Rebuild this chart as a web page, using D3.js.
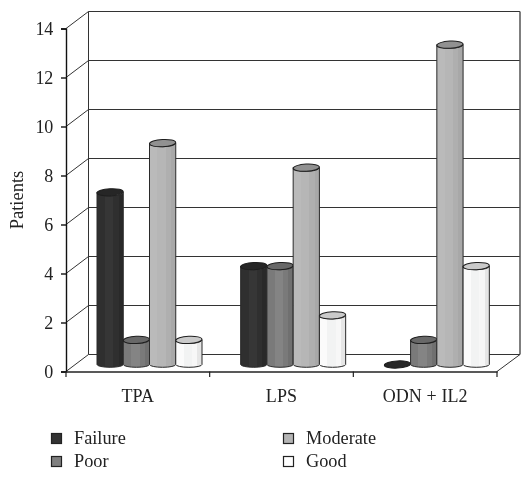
<!DOCTYPE html>
<html><head><meta charset="utf-8">
<script src="https://cdn.jsdelivr.net/npm/d3@7"></script>
<style>html,body{margin:0;padding:0;background:#fff}svg{display:block;filter:blur(0.35px)}
text{font-family:"Liberation Serif",serif;fill:#222}</style></head>
<body><div id="chart"></div>
<script>
const categories = ["TPA", "LPS", "ODN + IL2"];
const seriesNames = ["Failure", "Poor", "Moderate", "Good"];
const failure = [7, 4, 0];
const poor = [1, 4, 1];
const moderate = [9, 8, 13];
const good = [1, 2, 4];
const seriesValues = [failure, poor, moderate, good];
const yTicks = [0, 2, 4, 6, 8, 10, 12, 14];

const W = 532, H = 479;
const depthX = 22.5, depthY = 17;
const svg = d3.select("#chart").append("svg").attr("width", W).attr("height", H);
const defs = svg.append("defs");

const y = d3.scaleLinear().domain([0, 14]).range([371.5, 28.5]);
const x0 = d3.scaleBand().domain(categories).range([66, 497]);
const x1 = d3.scaleBand().domain(seriesNames).range([31, 136]);
const yBar = d3.scaleLinear().domain([0, 14]).range([364.5, 20.1]);

// Colours per series: [left, mid, light, right, cap, legend]
const shades = {
  Failure: ["#2f2f2f", "#363636", "#2f2f2f", "#292929", "#262626", "#333333"],
  Poor: ["#7a7a7a", "#848484", "#7a7a7a", "#707070", "#686868", "#7f7f7f"],
  Moderate: ["#bababa", "#b6b6b6", "#afafaf", "#a8a8a8", "#919191", "#b4b4b4"],
  Good: ["#fbfbfb", "#f2f3f3", "#f7f7f7", "#e6e6e6", "#cacaca", "#ffffff"]
};
seriesNames.forEach(s => {
  const g = defs.append("linearGradient").attr("id", "g" + s);
  const c = shades[s];
  [[0, c[0]], [.3, c[0]], [.3, c[1]], [.62, c[1]], [.62, c[2]], [.82, c[2]], [.82, c[3]], [1, c[3]]]
    .forEach(([o, col]) => g.append("stop").attr("offset", o).attr("stop-color", col));
});

// Chart box
const box = svg.append("g").attr("fill", "none").attr("stroke", "#333").attr("stroke-width", 1);
const line = (x1_, y1_, x2_, y2_, col, w) => box.append("line")
  .attr("x1", x1_).attr("y1", y1_).attr("x2", x2_).attr("y2", y2_)
  .attr("stroke", col || "#333").attr("stroke-width", w || 1);

yTicks.forEach(t => {
  line(66, y(t), 66 + depthX, y(t) - depthY);
  line(66 + depthX, y(t) - depthY, 520, y(t) - depthY);
});
line(88.5, y(14) - depthY, 88.5, y(0) - depthY);
line(520, y(14) - depthY, 520, y(0) - depthY, "#555", 1.5);
line(497, y(0), 520, y(0) - depthY);

// Axes
const axL = svg.append("g").attr("transform", "translate(66,0)")
  .call(d3.axisLeft(y).tickValues(yTicks).tickSize(5).tickPadding(8).tickFormat(d3.format("d")));
const axB = svg.append("g").attr("transform", "translate(0," + y(0) + ")")
  .call(d3.axisBottom(x0).tickSize(0).tickPadding(17.5));
axL.selectAll("path,line").attr("stroke", "#111").attr("stroke-width", 1.4);
axB.select("path").attr("stroke", "#222").attr("stroke-width", 1.4);
axL.selectAll("text").attr("font-size", 18).attr("font-family", "Liberation Serif").attr("fill", "#222").attr("letter-spacing", -.3);
axB.selectAll("text").attr("font-size", 18).attr("font-family", "Liberation Serif").attr("fill", "#222").attr("letter-spacing", .1);
const bTicks = [0, 1, 2, 3].map(i => 66 + i * x0.bandwidth());
axB.selectAll(".cat-sep").data(bTicks).enter().append("line").attr("class", "cat-sep")
  .attr("x1", d => d).attr("x2", d => d).attr("y1", 0).attr("y2", 5.5)
  .attr("stroke", "#222").attr("stroke-width", 1.2);

// Bars
const rY = 3.6;
categories.forEach((cat, ci) => {
  seriesNames.forEach((s, si) => {
    const v = seriesValues[si][ci];
    const bx = x0(cat) + x1(s), w = x1.bandwidth(), rx = w / 2;
    const top = yBar(v), base = yBar(0);
    const g = svg.append("g");
    if (v > 0) {
      g.append("path")
        .attr("d", `M${bx},${top} L${bx},${base} A${rx},${rY - .8} 0 0 0 ${bx + w},${base} L${bx + w},${top} A${rx},${rY} 0 0 1 ${bx},${top} Z`)
        .attr("fill", `url(#g${s})`).attr("stroke", "#2a2a2a").attr("stroke-width", 1);
    }
    const cy = v > 0 ? top : base;
    g.append("ellipse").attr("cx", bx + rx).attr("cy", cy)
      .attr("rx", rx).attr("ry", rY)
      .attr("transform", `rotate(-3 ${bx + rx} ${cy})`)
      .attr("fill", shades[s][4]).attr("stroke", "#1e1e1e").attr("stroke-width", 1);
  });
});

// Y title
svg.append("text").attr("transform", "translate(23,200) rotate(-90)")
  .attr("text-anchor", "middle").attr("font-size", 18.5).text("Patients");

// Legend
const legX = [51, 51, 283, 283], legY = [433, 456, 433, 456];
seriesNames.forEach((s, i) => {
  svg.append("rect").attr("x", legX[i] + .5).attr("y", legY[i] + .5).attr("width", 10).attr("height", 10)
    .attr("fill", shades[s][5]).attr("stroke", "#222").attr("stroke-width", 1.2);
  svg.append("text").attr("x", legX[i] + 23).attr("y", legY[i] + 11)
    .attr("font-size", 18.3).text(s);
});
</script></body></html>
